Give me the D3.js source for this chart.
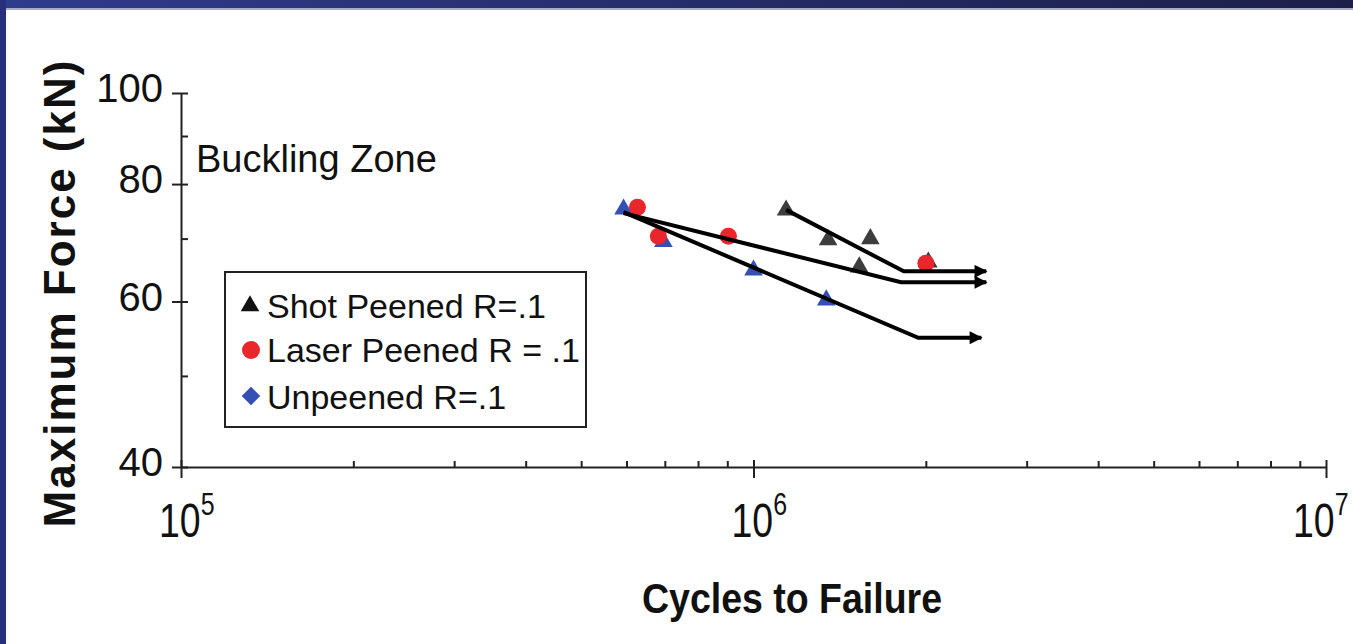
<!DOCTYPE html>
<html>
<head>
<meta charset="utf-8">
<script src="https://cdn.jsdelivr.net/npm/d3@7"></script>
<style>
  body { margin: 0; background: #fff; overflow: hidden; }
  text { font-family: "Liberation Sans", Arial, sans-serif; fill: #111; }
</style>
</head>
<body>
<svg width="1353" height="644"></svg>
<script>
// cycles to failure / max force (kN)
var shotN = [1.14e6, 1.35e6, 1.6e6, 1.53e6, 2.02e6];
var shotF = [75.4, 70.1, 70.3, 65.6, 66.4];
var laserN = [6.27e5, 6.82e5, 9.04e5, 2.0e6];
var laserF = [75.6, 70.4, 70.4, 65.9];
var unpeenedN = [5.93e5, 6.96e5, 1.0e6, 1.34e6];
var unpeenedF = [75.6, 69.8, 65.1, 60.5];

// trend lines with run-out arrows
var shotTrendN = [1.14e6, 1.83e6, 2.55e6];
var shotTrendF = [75.1, 64.6, 64.6];
var laserTrendN = [5.93e5, 1.81e6, 2.55e6];
var laserTrendF = [74.5, 62.9, 62.9];
var unpeenedTrendN = [5.93e5, 1.94e6, 2.5e6];
var unpeenedTrendF = [74.7, 54.9, 54.9];

var xMajor = [1e5, 1e6, 1e7];
var xExp = ["5", "6", "7"];
var xMinor = [2e5, 3e5, 4e5, 5e5, 6e5, 7e5, 8e5, 9e5, 2e6, 3e6, 4e6, 5e6, 6e6, 7e6, 8e6, 9e6];
var yLabeled = [40, 60, 80, 100];
var yMinor = [50, 70, 90];

var legendLabels = ["Shot Peened R=.1", "Laser Peened R = .1", "Unpeened R=.1"];

var svg = d3.select("svg");

// slide frame
var defs = svg.append("defs");
var grad = defs.append("linearGradient").attr("id", "topband");
grad.append("stop").attr("offset", "0%").attr("stop-color", "#2f3c8c");
grad.append("stop").attr("offset", "100%").attr("stop-color", "#1c1f48");
svg.append("rect").attr("x", 0).attr("y", 0).attr("width", 1353).attr("height", 8).attr("fill", "url(#topband)");
svg.append("rect").attr("x", 0).attr("y", 8).attr("width", 1353).attr("height", 2).attr("fill", "#a8acc8");
svg.append("rect").attr("x", 0).attr("y", 0).attr("width", 6).attr("height", 644).attr("fill", "#27307a");

defs.append("marker")
    .attr("id", "arrow")
    .attr("viewBox", "0 0 10 10")
    .attr("refX", 9).attr("refY", 5)
    .attr("markerUnits", "userSpaceOnUse")
    .attr("markerWidth", 14).attr("markerHeight", 13)
    .attr("orient", "auto")
    .append("path").attr("d", "M0,0L10,5L0,10Z").attr("fill", "#000");

var x = d3.scaleLog().domain([1e5, 1e7]).range([181, 1326]);
var y = d3.scaleLog().domain([40, 100]).range([467, 93]);

// x axis: minor ticks inside, decades crossing
var gx = svg.append("g").attr("transform", "translate(0,467)");
gx.call(d3.axisBottom(x).tickValues(xMinor).tickSize(-6).tickSizeOuter(0).tickFormat(""));
var gxM = svg.append("g").attr("transform", "translate(0,467)");
gxM.call(d3.axisBottom(x).tickValues(xMajor).tickSize(11).tickSizeOuter(0).tickFormat(""));
gxM.select(".domain").remove();
gxM.selectAll(".tick line").attr("y1", -7);

// y axis
var gy = svg.append("g").attr("transform", "translate(181,0)");
gy.call(d3.axisLeft(y).tickValues(yMinor).tickSize(-7).tickSizeOuter(0).tickFormat(""));
var gyM = svg.append("g").attr("transform", "translate(181,0)");
gyM.call(d3.axisLeft(y).tickValues(yLabeled).tickSize(9).tickSizeOuter(0).tickFormat(""));
gyM.select(".domain").remove();
gyM.selectAll(".tick line").attr("x1", 7);

svg.selectAll(".domain, .tick line").attr("stroke", "#222").attr("stroke-width", 2);

// y labels
svg.append("g").selectAll("text")
    .data(yLabeled)
    .enter().append("text")
    .attr("x", 163)
    .attr("y", function(d) { return y(d) + 9; })
    .attr("text-anchor", "end")
    .attr("font-size", 40)
    .text(function(d) { return d; });

// x labels 10^n, condensed like the original
var xl = svg.append("g").selectAll("g")
    .data(xMajor)
    .enter().append("g")
    .attr("transform", function(d) {
        var cx = Math.min(x(d), 1315);
        return "translate(" + (cx - 22) + ",537) scale(0.78,1)";
    })
    .append("text")
    .attr("font-size", 48);
xl.append("tspan").text("10");
xl.append("tspan")
    .attr("font-size", 32)
    .attr("dy", -22)
    .text(function(d, i) { return xExp[i]; });

svg.append("text")
    .attr("x", 196).attr("y", 172)
    .attr("font-size", 38)
    .text("Buckling Zone");

// markers
function tri(size) { return d3.symbol().type(d3.symbolTriangle).size(size); }

var pts = svg.append("g");
pts.selectAll(".unp")
    .data(unpeenedN.map(function(n, i) { return [n, unpeenedF[i]]; }))
    .enter().append("path")
    .attr("transform", function(d) { return "translate(" + x(d[0]) + "," + (y(d[1]) + 2) + ")"; })
    .attr("d", tri(150))
    .attr("fill", "#3550b4");
pts.selectAll(".shot")
    .data(shotN.map(function(n, i) { return [n, shotF[i]]; }))
    .enter().append("path")
    .attr("transform", function(d) { return "translate(" + x(d[0]) + "," + (y(d[1]) + 2) + ")"; })
    .attr("d", tri(150))
    .attr("fill", "#3d3d3d");
pts.selectAll(".laser")
    .data(laserN.map(function(n, i) { return [n, laserF[i]]; }))
    .enter().append("circle")
    .attr("cx", function(d) { return x(d[0]); })
    .attr("cy", function(d) { return y(d[1]); })
    .attr("r", 8.5)
    .attr("fill", "#e8262b");

// trend lines
var line = d3.line()
    .x(function(d) { return x(d[0]); })
    .y(function(d) { return y(d[1]); });

var trends = [
    [shotTrendN, shotTrendF],
    [laserTrendN, laserTrendF],
    [unpeenedTrendN, unpeenedTrendF]
];
svg.append("g").selectAll("path")
    .data(trends)
    .enter().append("path")
    .attr("d", function(t) { return line(t[0].map(function(n, i) { return [n, t[1][i]]; })); })
    .attr("fill", "none")
    .attr("stroke", "#000")
    .attr("stroke-width", 4)
    .attr("marker-end", "url(#arrow)");

// legend
var lg = svg.append("g");
lg.append("rect")
    .attr("x", 225).attr("y", 272).attr("width", 361).attr("height", 155)
    .attr("fill", "#fff").attr("stroke", "#222").attr("stroke-width", 2);
var rows = [318, 362, 409];
lg.selectAll("text")
    .data(legendLabels)
    .enter().append("text")
    .attr("x", 267)
    .attr("y", function(d, i) { return rows[i]; })
    .attr("font-size", 34)
    .text(function(d) { return d; });
lg.append("path")
    .attr("transform", "translate(250," + (rows[0] - 12) + ")")
    .attr("d", tri(150)).attr("fill", "#111");
lg.append("circle")
    .attr("cx", 251).attr("cy", rows[1] - 12).attr("r", 9)
    .attr("fill", "#e8262b");
lg.append("path")
    .attr("transform", "translate(251," + (rows[2] - 13) + ")")
    .attr("d", d3.symbol().type(d3.symbolDiamond2).size(220)).attr("fill", "#3550b4");

// axis titles
svg.append("text")
    .attr("transform", "translate(75,293) rotate(-90)")
    .attr("text-anchor", "middle")
    .attr("font-size", 44)
    .attr("font-weight", "bold")
    .attr("letter-spacing", 2)
    .text("Maximum Force (kN)");

svg.append("text")
    .attr("x", 792).attr("y", 613)
    .attr("text-anchor", "middle")
    .attr("font-size", 42)
    .attr("font-weight", "bold")
    .attr("textLength", 300)
    .attr("lengthAdjust", "spacingAndGlyphs")
    .text("Cycles to Failure");
</script>
</body>
</html>
